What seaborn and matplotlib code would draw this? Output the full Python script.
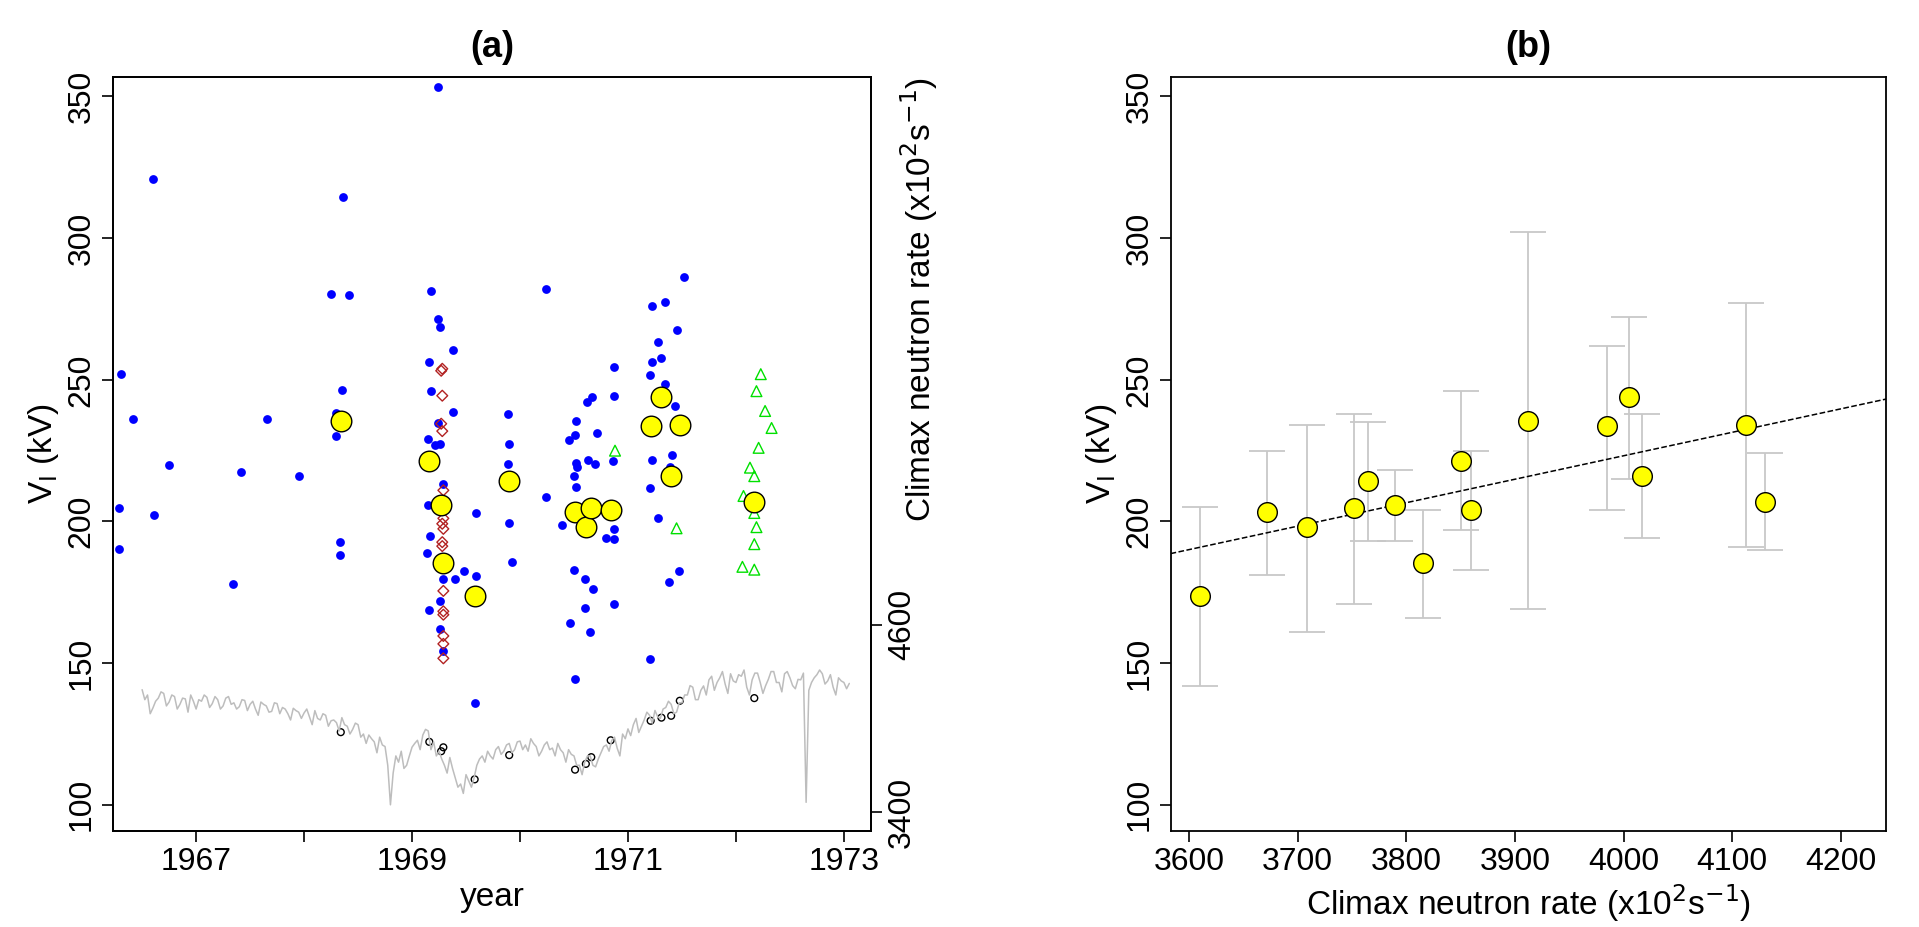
import numpy as np
import pandas as pd
import matplotlib
matplotlib.use("Agg")
import matplotlib.pyplot as plt
import seaborn as sns

# --- panel (a): individual V_I estimates ---
blue_year = [1969.24, 1966.60, 1968.36, 1968.25, 1968.42, 1969.18, 1970.24, 1971.52, 1971.22, 1971.34,
             1969.24, 1969.26, 1971.45, 1969.38, 1971.28, 1971.31, 1969.16, 1971.22, 1971.20, 1970.87,
             1966.30, 1969.18, 1968.35, 1970.87, 1971.34, 1970.67, 1970.62, 1969.38, 1969.89, 1966.42,
             1967.66, 1968.30, 1970.52, 1969.24, 1971.44, 1969.15, 1968.30, 1969.26, 1969.21, 1969.90,
             1970.71, 1970.51, 1970.45, 1971.22, 1970.86, 1969.89, 1970.63, 1970.69, 1970.52, 1970.53,
             1971.41, 1971.39, 1966.75, 1967.42, 1967.95, 1970.50, 1970.52, 1971.20, 1969.29, 1970.24,
             1969.15, 1966.29, 1966.61, 1969.59, 1971.28, 1969.90, 1970.39, 1970.87, 1970.80, 1970.87,
             1969.17, 1968.33, 1968.33, 1966.29, 1969.14, 1969.93, 1969.48, 1969.59, 1969.29, 1969.40,
             1971.47, 1971.38, 1970.50, 1970.60, 1970.68, 1967.34, 1970.87, 1969.26, 1969.16, 1970.60,
             1970.46, 1970.65, 1969.26, 1969.29, 1971.20, 1970.51, 1969.58]
blue_v = [353.5, 320.9, 314.5, 280.4, 279.8, 281.5, 281.9, 286.3, 275.9, 277.6,
          271.6, 268.8, 267.7, 260.6, 263.2, 257.8, 256.3, 256.3, 251.7, 254.6,
          252.2, 246.0, 246.4, 244.2, 248.6, 243.8, 242.3, 238.5, 238.1, 236.3,
          236.0, 238.3, 235.6, 234.9, 240.8, 229.1, 230.0, 227.3, 227.0, 227.3,
          231.3, 230.5, 228.7, 221.7, 221.2, 220.4, 221.8, 220.4, 220.8, 219.4,
          223.4, 219.1, 219.9, 217.3, 216.2, 216.2, 212.2, 211.9, 213.2, 208.8,
          205.7, 204.8, 202.2, 203.1, 201.4, 199.6, 198.8, 197.5, 194.2, 193.8,
          194.7, 192.7, 188.0, 190.4, 188.8, 185.8, 182.6, 180.9, 179.8, 179.8,
          182.6, 178.8, 182.9, 179.8, 176.2, 177.9, 170.9, 172.0, 168.7, 169.3,
          164.0, 161.1, 162.1, 154.3, 151.4, 144.5, 136.0]

red_year = [1969.28, 1969.27, 1969.28, 1969.27, 1969.28, 1969.29, 1969.29, 1969.28, 1969.29,
            1969.28, 1969.28, 1969.29, 1969.29, 1969.29, 1969.29, 1969.29, 1969.29]
red_v = [253.9, 253.2, 244.4, 234.5, 231.9, 211.0, 201.1, 199.2, 197.4,
         192.7, 191.3, 175.5, 168.3, 167.1, 159.6, 156.8, 151.7]

green_year = [1972.23, 1972.19, 1972.27, 1972.33, 1972.21, 1972.13, 1972.17, 1972.07,
              1972.17, 1972.19, 1972.17, 1972.06, 1972.17, 1970.88, 1971.45]
green_v = [252, 246, 239, 233, 226, 219, 216, 209, 203, 198, 192, 184, 183, 225, 197.6]

# 27-day means (yellow) with matching Climax rate and spread
mean_year = [1968.34, 1969.16, 1969.27, 1969.29, 1969.58, 1969.90, 1970.51, 1970.61,
             1970.66, 1970.84, 1971.21, 1971.31, 1971.40, 1971.48, 1972.17]
mean_v = [235.6, 221.4, 205.7, 185.3, 173.7, 214.4, 203.2, 198.0,
          204.8, 204.1, 233.6, 244.0, 216.2, 234.0, 207.0]
mean_climax = [3912, 3850, 3790, 3815, 3610, 3765, 3672, 3709,
               3752, 3860, 3985, 4005, 4017, 4113, 4130]
v_lo = [169, 197, 193, 166, 142, 193, 181, 161, 171, 183, 204, 215, 194, 191, 190]
v_hi = [302, 246, 218, 204, 205, 235, 225, 234, 238, 225, 262, 272, 238, 277, 224]

# Climax neutron rate (x10^2 s^-1), every 0.025 yr from 1966.50
climax_rate = [4184, 4120, 4150, 4030, 4067, 4110, 4130, 4170, 4160, 4080, 4105, 4150,
               4140, 4060, 4090, 4130, 4125, 4040, 4150, 4110, 4060, 4120,
               4110, 4150, 4135, 4070, 4095, 4140, 4120, 4060, 4080, 4130,
               4140, 4090, 4100, 4060, 4075, 4120, 4115, 4050, 4090, 4110,
               4060, 4020, 4105, 4090, 4080, 4040, 4045, 4100, 4095, 4030,
               4070, 4060, 4030, 3990, 4065, 4050, 4040, 4000, 4035, 4060,
               4010, 3960, 4050, 4000, 3990, 4030, 4020, 3950, 3985, 3990,
               3973, 3920, 4005, 3960, 3950, 3900, 3930, 3970, 3960, 3880,
               3900, 3840, 3894, 3870, 3850, 3780, 3880, 3830, 3820, 3700,
               3447, 3650, 3760, 3720, 3790, 3680, 3700, 3760, 3816, 3840,
               3860, 3800, 3894, 3930, 3920, 3800, 3850, 3760, 3790, 3740,
               3700, 3650, 3750, 3680, 3620, 3560, 3580, 3520, 3640, 3600,
               3560, 3620, 3700, 3740, 3760, 3720, 3790, 3760, 3740, 3800,
               3820, 3770, 3790, 3830, 3840, 3780, 3800, 3850, 3855, 3800,
               3830, 3790, 3870, 3840, 3820, 3760, 3790, 3830, 3850, 3800,
               3810, 3760, 3840, 3800, 3780, 3720, 3800, 3770, 3760, 3700,
               3700, 3640, 3722, 3760, 3760, 3700, 3690, 3740, 3780, 3820,
               3830, 3790, 3860, 3880, 3810, 3760, 3900, 3870, 3933, 3890,
               3960, 4000, 3910, 3950, 3990, 4040, 4020, 3970, 4051, 4010,
               4000, 4060, 4070, 4110, 4090, 4030, 4040, 4100, 4100, 4150,
               4150, 4210, 4200, 4120, 4120, 4180, 4208, 4150, 4247, 4270,
               4180, 4230, 4260, 4300, 4220, 4160, 4286, 4240, 4230, 4280,
               4270, 4310, 4200, 4150, 4247, 4290, 4290, 4230, 4160, 4210,
               4250, 4300, 4300, 4230, 4230, 4170, 4286, 4300, 4260, 4210,
               4190, 4250, 4247, 4290, 3463, 4180, 4230, 4260, 4280, 4310,
               4286, 4220, 4240, 4280, 4200, 4150, 4260, 4240, 4230, 4190, 4224]
climax_year = 1966.5 + 0.025 * np.arange(len(climax_rate))

sns.set_style("ticks")
plt.rcParams["font.family"] = ["Liberation Sans", "DejaVu Sans"]
plt.rcParams.update({"axes.linewidth": 1.3, "text.color": "black", "axes.labelcolor": "black",
                     "xtick.color": "black", "ytick.color": "black", "axes.edgecolor": "black"})

fig = plt.figure(figsize=(19.19, 9.27), dpi=100)
ax = fig.add_axes([0.0587, 0.104, 0.3953, 0.813])
ax2 = ax.twinx()

sns.lineplot(x=climax_year, y=climax_rate, ax=ax2, color="#bdbdbd", linewidth=1.1)
sns.scatterplot(x=mean_year, y=mean_climax, ax=ax2, marker="o", s=24,
                facecolor="none", edgecolor="black", linewidth=1.0)
ax2.set_ylim(3282, 8106)
ax2.set_yticks([3400, 4600])
ax2.set_ylabel("Climax neutron rate (x10$^2$s$^{-1}$)", fontsize=24)
ax2.yaxis.set_label_coords(1.035, 1.0)
ax2.yaxis.label.set_va("top")
ax2.yaxis.label.set_ha("right")

sns.scatterplot(x=blue_year, y=blue_v, ax=ax, color="blue", s=40, edgecolor="blue", linewidth=0)
sns.scatterplot(x=red_year, y=red_v, ax=ax, marker="D", s=30, facecolor="none",
                edgecolor="#b22222", linewidth=1.0)
sns.scatterplot(x=green_year, y=green_v, ax=ax, marker="^", s=60, facecolor="none",
                edgecolor="#00e000", linewidth=1.0)
sns.scatterplot(x=mean_year, y=mean_v, ax=ax, s=220, color="yellow", edgecolor="black",
                linewidth=1.0, zorder=5)
ax.set_xlim(1966.227, 1973.253)
ax.set_ylim(90.9, 356.9)
ax.set_xticks(range(1967, 1974))
ax.set_xticklabels(["1967", "", "1969", "", "1971", "", "1973"])
ax.set_yticks([100, 150, 200, 250, 300, 350])
ax.set_xlabel("year", fontsize=24)
ax.set_ylabel("V$_\\mathrm{I}$ (kV)", fontsize=24)
ax.set_title("(a)", fontsize=26, fontweight="bold", pad=14)

# --- panel (b) ---
bx = fig.add_axes([0.610, 0.104, 0.373, 0.813])
clim = np.array(mean_climax)
vm = np.array(mean_v)
bx.errorbar(clim, vm, yerr=[vm - np.array(v_lo), np.array(v_hi) - vm], fmt="none",
            ecolor="#c8c8c8", elinewidth=1.3, capsize=13, capthick=1.3, zorder=1)
slope, icpt = np.polyfit(clim, vm, 1)
xfit = np.array([3583, 4242])
sns.lineplot(x=xfit, y=icpt + slope * xfit, ax=bx, color="black", linestyle="--", linewidth=1.1)
sns.scatterplot(x=mean_climax, y=mean_v, ax=bx, s=200, color="yellow", edgecolor="black",
                linewidth=1.0, zorder=5)
bx.set_xlim(3583, 4242)
bx.set_ylim(90.9, 356.9)
bx.set_yticks([100, 150, 200, 250, 300, 350])
bx.set_xlabel("Climax neutron rate (x10$^2$s$^{-1}$)", fontsize=24)
bx.set_ylabel("V$_\\mathrm{I}$ (kV)", fontsize=24)
bx.set_title("(b)", fontsize=26, fontweight="bold", pad=14)

for a in (ax, ax2, bx):
    a.tick_params(labelsize=23, length=8, width=1.2)
    for s in a.spines.values():
        s.set_visible(True)
for a in (ax, ax2, bx):
    for lab in a.get_yticklabels():
        lab.set_rotation(90)
        lab.set_va("center")

fig.savefig("out.png", dpi=100)
